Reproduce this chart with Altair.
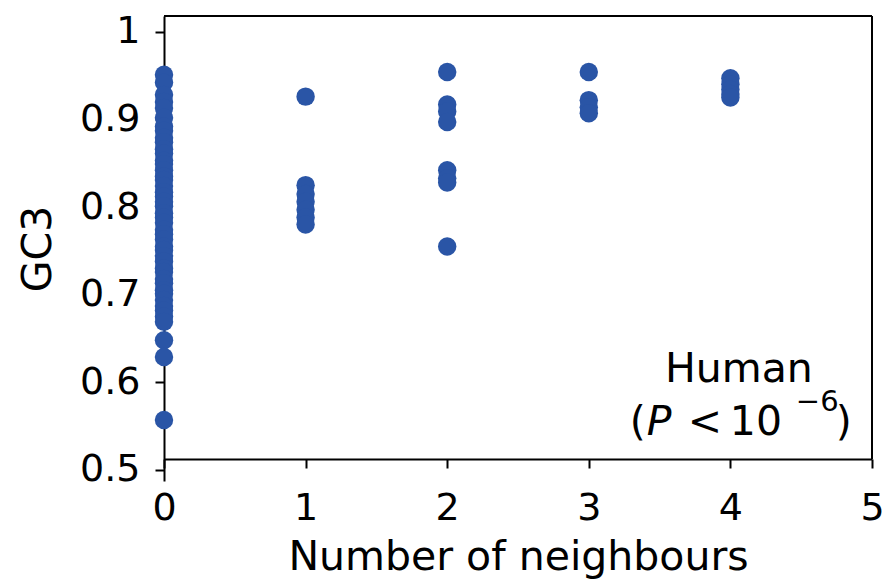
import altair as alt
import pandas as pd

# GC3 values, grouped by number of neighbours
gc3_0 = [0.951, 0.942, 0.928, 0.920, 0.913, 0.902, 0.892, 0.887, 0.879, 0.874, 0.866,
         0.861, 0.853, 0.849, 0.842, 0.835, 0.831, 0.824, 0.817, 0.812, 0.806, 0.801,
         0.793, 0.788, 0.782, 0.774, 0.769, 0.763, 0.755, 0.751, 0.744, 0.738, 0.730,
         0.726, 0.718, 0.713, 0.705, 0.701, 0.694, 0.687, 0.682, 0.675, 0.669, 0.648,
         0.629, 0.557]
gc3_1 = [0.926, 0.825, 0.815, 0.806, 0.797, 0.788, 0.780]
gc3_2 = [0.954, 0.917, 0.909, 0.897, 0.842, 0.833, 0.828, 0.755]
gc3_3 = [0.954, 0.922, 0.914, 0.907]
gc3_4 = [0.947, 0.940, 0.934, 0.929, 0.925]

groups = [gc3_0, gc3_1, gc3_2, gc3_3, gc3_4]
x_ticks = [0, 1, 2, 3, 4, 5]
y_ticks = [0.5, 0.6, 0.7, 0.8, 0.9, 1.0]

rows = []
for n, vals in enumerate(groups):
    for v in vals:
        rows.append({"n": n, "gc3": v})
df = pd.DataFrame(rows)

FONT = "DejaVu Sans"
BLUE = "#2a55a6"
Y_DOM = [0.4874, 1.018]
X_AXIS_Y = 0.5126

xscale = alt.Scale(domain=[0, 5], nice=False, zero=False)
yscale = alt.Scale(domain=Y_DOM, nice=False, zero=False)

points = alt.Chart(df).mark_circle(size=340, color=BLUE, opacity=1, clip=False).encode(
    x=alt.X("n:Q", scale=xscale,
            axis=alt.Axis(values=x_ticks, offset=-22, title="Number of neighbours",
                          format="d", labelPadding=21, titlePadding=10, tickSize=9,
                          labelFlush=False)),
    y=alt.Y("gc3:Q", scale=yscale,
            axis=alt.Axis(values=y_ticks, format="~g", title="GC3",
                          labelPadding=15, titlePadding=20, tickSize=9)),
)

top_border = alt.Chart().mark_rule(color="black", strokeWidth=2).encode(
    x=alt.datum(0, scale=xscale), x2=alt.datum(5), y=alt.datum(Y_DOM[1], scale=yscale))
right_border = alt.Chart().mark_rule(color="black", strokeWidth=2).encode(
    x=alt.datum(5, scale=xscale), y=alt.datum(X_AXIS_Y, scale=yscale), y2=alt.datum(Y_DOM[1]))

ann_x = 3.29
ann_y2 = 0.540


def txt(text, x, y, dx=0, dy=0, size=41, style="normal", align="left"):
    return alt.Chart().mark_text(text=text, font=FONT, fontSize=size, fontStyle=style,
                                 align=align, baseline="alphabetic", color="black",
                                 dx=dx, dy=dy).encode(
        x=alt.datum(x, scale=xscale), y=alt.datum(y, scale=yscale))


annot = [
    txt("Human", 4.06, 0.6005, align="center"),
    txt("(", ann_x, ann_y2, dx=0),
    txt("P", ann_x, ann_y2, dx=17, style="italic"),
    txt("<", ann_x, ann_y2, dx=58),
    txt("10", ann_x, ann_y2, dx=100),
    txt("\u22126", ann_x, ann_y2, dx=166, dy=-24, size=29),
    txt(")", ann_x, ann_y2, dx=206),
]

chart = alt.layer(top_border, right_border, points, *annot).properties(
    width=708, height=465,
    padding={"left": 164, "top": 16, "right": 16, "bottom": 102},
    autosize=alt.AutoSizeParams(type="none"),
).configure_view(stroke=None).configure_axis(
    domainColor="black", domainWidth=2, tickColor="black", tickWidth=2,
    labelFont=FONT, labelFontSize=38, labelColor="black",
    titleFont=FONT, titleFontSize=41, titleFontWeight="normal", titleColor="black",
    grid=False,
)

chart.save("out.html", embed_options={"renderer": "svg", "actions": False})
